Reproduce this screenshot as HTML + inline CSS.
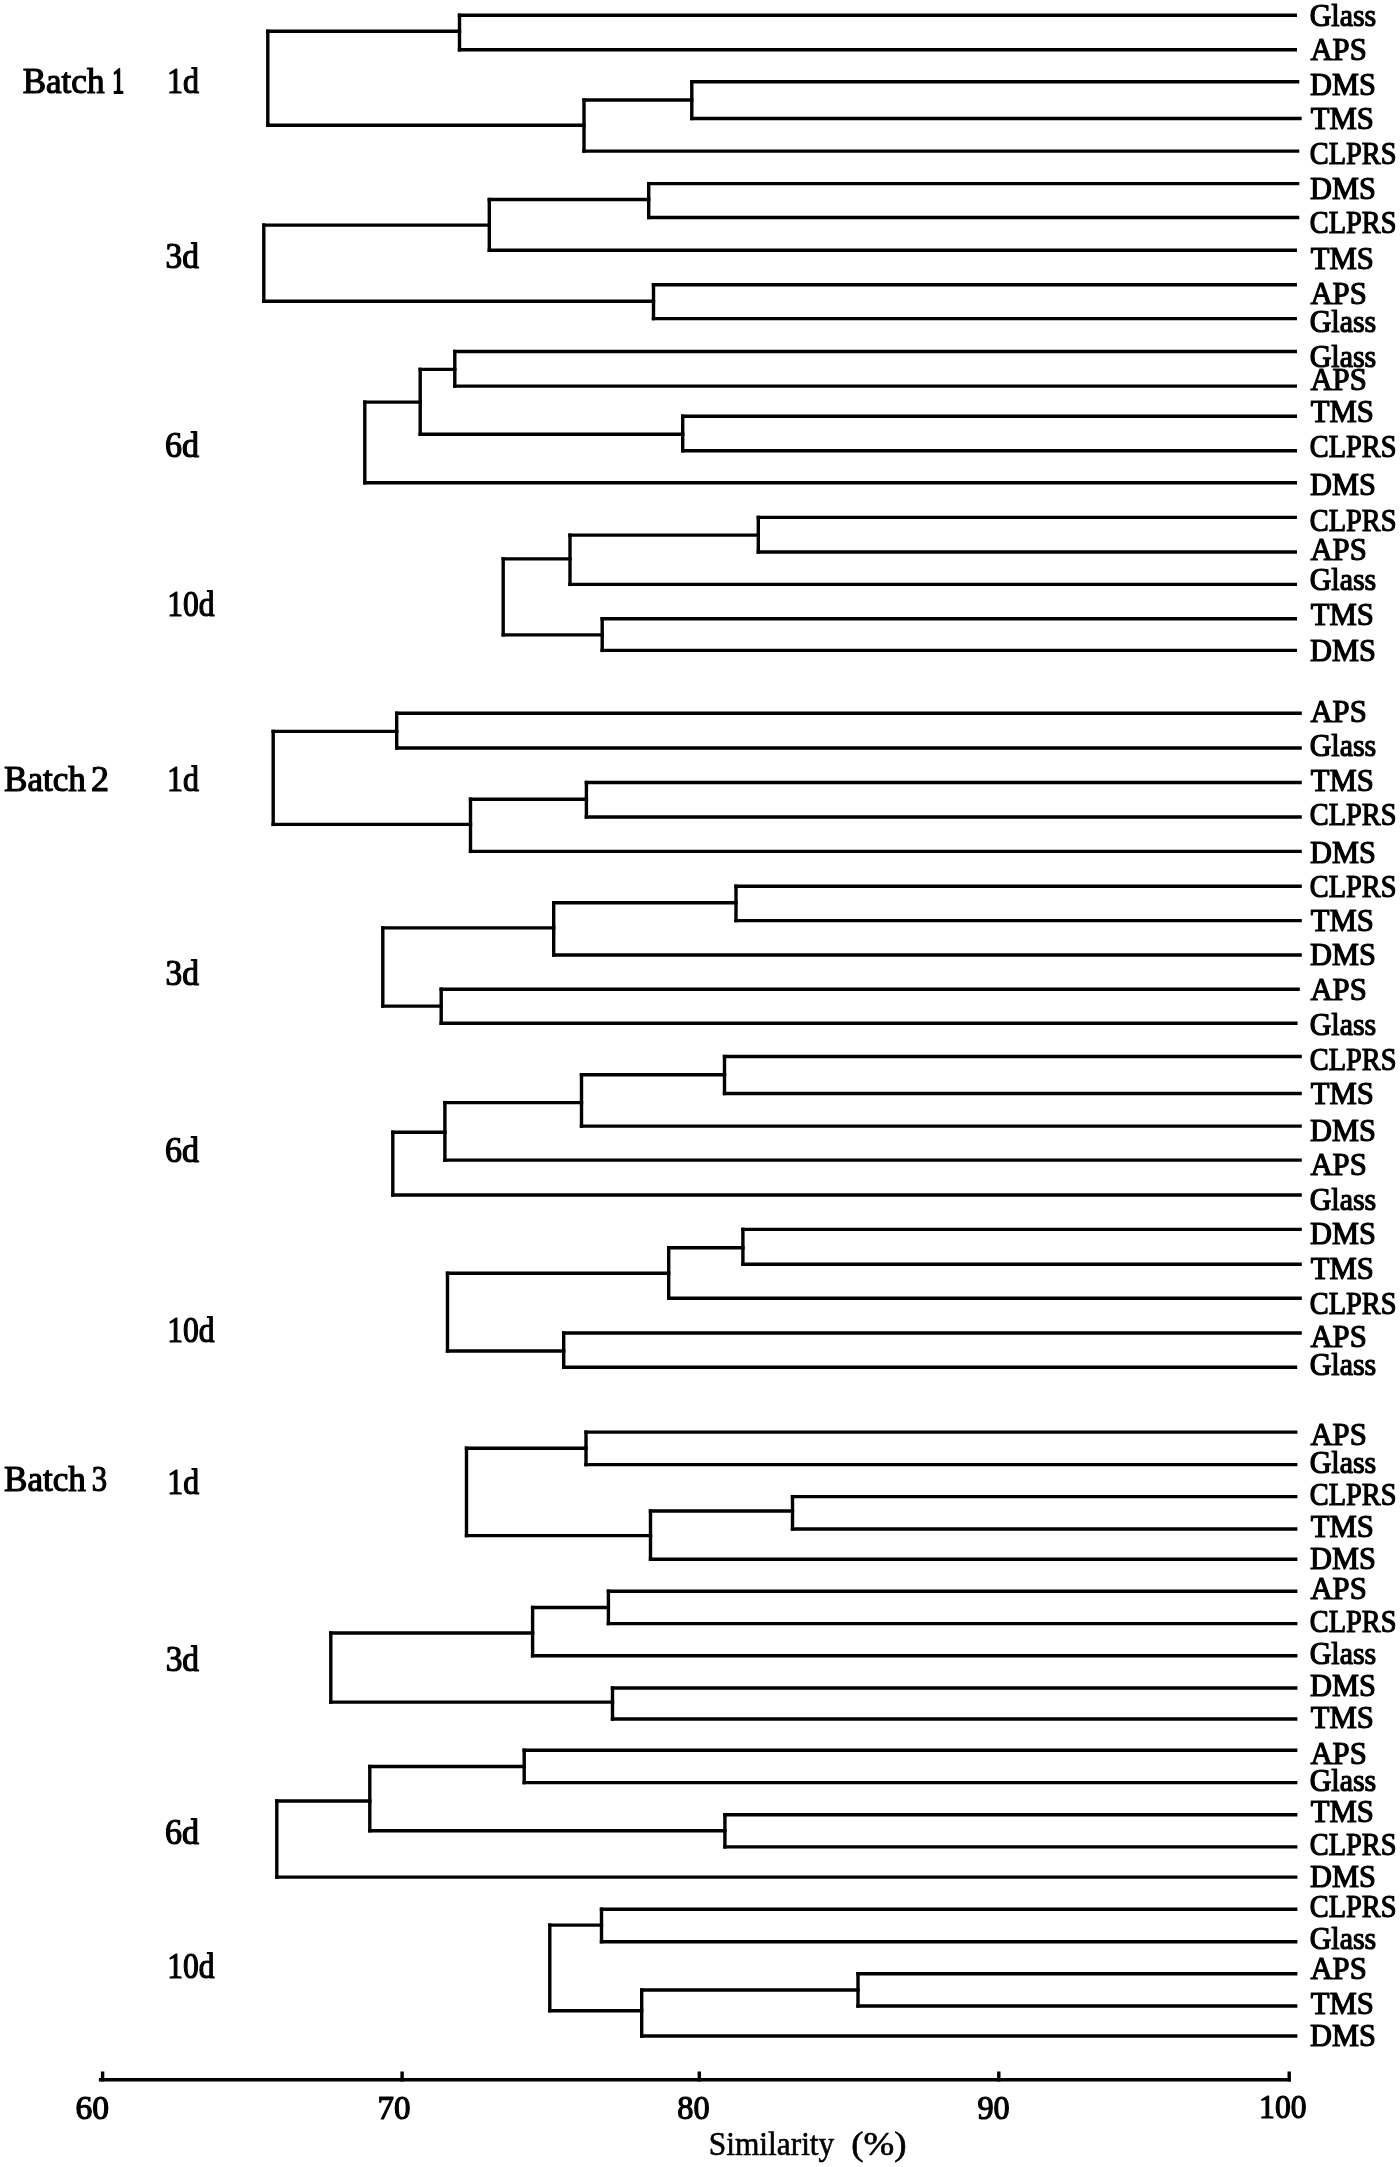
<!DOCTYPE html>
<html><head><meta charset="utf-8"><style>
html,body{margin:0;padding:0;background:#fff;width:1400px;height:2167px;overflow:hidden}
svg{display:block;will-change:transform}
text{font-family:"Liberation Serif",serif;fill:#000;stroke:#000;stroke-width:1.2px;stroke-linejoin:round}
</style></head><body>
<svg width="1400" height="2167" viewBox="0 0 1400 2167">
<g stroke="#000" stroke-width="3.4" stroke-linecap="square" fill="none">
<line x1="459.5" y1="15.2" x2="1295.3" y2="15.2"/>
<line x1="459.5" y1="49.8" x2="1295.3" y2="49.8"/>
<line x1="459.5" y1="15.2" x2="459.5" y2="49.8"/>
<line x1="691.8" y1="81.8" x2="1297.6" y2="81.8"/>
<line x1="691.8" y1="118.5" x2="1300.0" y2="118.5"/>
<line x1="691.8" y1="81.8" x2="691.8" y2="118.5"/>
<line x1="584.0" y1="100.0" x2="691.8" y2="100.0"/>
<line x1="584.0" y1="151.1" x2="1297.6" y2="151.1"/>
<line x1="584.0" y1="100.0" x2="584.0" y2="151.1"/>
<line x1="267.8" y1="31.3" x2="459.5" y2="31.3"/>
<line x1="267.8" y1="125.2" x2="584.0" y2="125.2"/>
<line x1="267.8" y1="31.3" x2="267.8" y2="125.2"/>
<line x1="648.7" y1="183.6" x2="1297.6" y2="183.6"/>
<line x1="648.7" y1="217.5" x2="1297.6" y2="217.5"/>
<line x1="648.7" y1="183.6" x2="648.7" y2="217.5"/>
<line x1="489.3" y1="199.5" x2="648.7" y2="199.5"/>
<line x1="489.3" y1="250.3" x2="1295.3" y2="250.3"/>
<line x1="489.3" y1="199.5" x2="489.3" y2="250.3"/>
<line x1="653.5" y1="284.7" x2="1295.3" y2="284.7"/>
<line x1="653.5" y1="318.6" x2="1295.3" y2="318.6"/>
<line x1="653.5" y1="284.7" x2="653.5" y2="318.6"/>
<line x1="263.8" y1="225.1" x2="489.3" y2="225.1"/>
<line x1="263.8" y1="301.2" x2="653.5" y2="301.2"/>
<line x1="263.8" y1="225.1" x2="263.8" y2="301.2"/>
<line x1="454.8" y1="351.5" x2="1295.3" y2="351.5"/>
<line x1="454.8" y1="386.1" x2="1295.3" y2="386.1"/>
<line x1="454.8" y1="351.5" x2="454.8" y2="386.1"/>
<line x1="682.7" y1="416.2" x2="1295.3" y2="416.2"/>
<line x1="682.7" y1="450.7" x2="1295.3" y2="450.7"/>
<line x1="682.7" y1="416.2" x2="682.7" y2="450.7"/>
<line x1="420.2" y1="369.4" x2="454.8" y2="369.4"/>
<line x1="420.2" y1="434.2" x2="682.7" y2="434.2"/>
<line x1="420.2" y1="369.4" x2="420.2" y2="434.2"/>
<line x1="364.8" y1="402.1" x2="420.2" y2="402.1"/>
<line x1="364.8" y1="482.8" x2="1295.3" y2="482.8"/>
<line x1="364.8" y1="402.1" x2="364.8" y2="482.8"/>
<line x1="758.3" y1="517.4" x2="1295.3" y2="517.4"/>
<line x1="758.3" y1="552.0" x2="1295.3" y2="552.0"/>
<line x1="758.3" y1="517.4" x2="758.3" y2="552.0"/>
<line x1="570.0" y1="535.1" x2="758.3" y2="535.1"/>
<line x1="570.0" y1="584.4" x2="1295.3" y2="584.4"/>
<line x1="570.0" y1="535.1" x2="570.0" y2="584.4"/>
<line x1="602.2" y1="618.7" x2="1295.3" y2="618.7"/>
<line x1="602.2" y1="650.4" x2="1295.3" y2="650.4"/>
<line x1="602.2" y1="618.7" x2="602.2" y2="650.4"/>
<line x1="503.2" y1="558.9" x2="570.0" y2="558.9"/>
<line x1="503.2" y1="634.9" x2="602.2" y2="634.9"/>
<line x1="503.2" y1="558.9" x2="503.2" y2="634.9"/>
<line x1="396.7" y1="713.3" x2="1300.1" y2="713.3"/>
<line x1="396.7" y1="748.0" x2="1300.1" y2="748.0"/>
<line x1="396.7" y1="713.3" x2="396.7" y2="748.0"/>
<line x1="586.4" y1="782.5" x2="1300.1" y2="782.5"/>
<line x1="586.4" y1="817.0" x2="1300.1" y2="817.0"/>
<line x1="586.4" y1="782.5" x2="586.4" y2="817.0"/>
<line x1="470.5" y1="799.2" x2="586.4" y2="799.2"/>
<line x1="470.5" y1="851.4" x2="1300.1" y2="851.4"/>
<line x1="470.5" y1="799.2" x2="470.5" y2="851.4"/>
<line x1="273.2" y1="731.4" x2="396.7" y2="731.4"/>
<line x1="273.2" y1="824.4" x2="470.5" y2="824.4"/>
<line x1="273.2" y1="731.4" x2="273.2" y2="824.4"/>
<line x1="736.0" y1="886.2" x2="1300.1" y2="886.2"/>
<line x1="736.0" y1="920.6" x2="1300.1" y2="920.6"/>
<line x1="736.0" y1="886.2" x2="736.0" y2="920.6"/>
<line x1="553.7" y1="902.8" x2="736.0" y2="902.8"/>
<line x1="553.7" y1="955.0" x2="1300.1" y2="955.0"/>
<line x1="553.7" y1="902.8" x2="553.7" y2="955.0"/>
<line x1="441.2" y1="989.2" x2="1298.1" y2="989.2"/>
<line x1="441.2" y1="1023.3" x2="1295.9" y2="1023.3"/>
<line x1="441.2" y1="989.2" x2="441.2" y2="1023.3"/>
<line x1="382.8" y1="927.9" x2="553.7" y2="927.9"/>
<line x1="382.8" y1="1006.1" x2="441.2" y2="1006.1"/>
<line x1="382.8" y1="927.9" x2="382.8" y2="1006.1"/>
<line x1="724.5" y1="1056.5" x2="1300.1" y2="1056.5"/>
<line x1="724.5" y1="1093.5" x2="1300.1" y2="1093.5"/>
<line x1="724.5" y1="1056.5" x2="724.5" y2="1093.5"/>
<line x1="581.5" y1="1074.7" x2="724.5" y2="1074.7"/>
<line x1="581.5" y1="1126.1" x2="1300.1" y2="1126.1"/>
<line x1="581.5" y1="1074.7" x2="581.5" y2="1126.1"/>
<line x1="444.9" y1="1102.6" x2="581.5" y2="1102.6"/>
<line x1="444.9" y1="1160.1" x2="1300.1" y2="1160.1"/>
<line x1="444.9" y1="1102.6" x2="444.9" y2="1160.1"/>
<line x1="392.8" y1="1132.2" x2="444.9" y2="1132.2"/>
<line x1="392.8" y1="1195.0" x2="1300.1" y2="1195.0"/>
<line x1="392.8" y1="1132.2" x2="392.8" y2="1195.0"/>
<line x1="742.9" y1="1229.4" x2="1300.1" y2="1229.4"/>
<line x1="742.9" y1="1264.3" x2="1300.1" y2="1264.3"/>
<line x1="742.9" y1="1229.4" x2="742.9" y2="1264.3"/>
<line x1="668.7" y1="1247.7" x2="742.9" y2="1247.7"/>
<line x1="668.7" y1="1298.3" x2="1300.1" y2="1298.3"/>
<line x1="668.7" y1="1247.7" x2="668.7" y2="1298.3"/>
<line x1="563.7" y1="1333.0" x2="1300.1" y2="1333.0"/>
<line x1="563.7" y1="1367.3" x2="1295.5" y2="1367.3"/>
<line x1="563.7" y1="1333.0" x2="563.7" y2="1367.3"/>
<line x1="447.5" y1="1273.3" x2="668.7" y2="1273.3"/>
<line x1="447.5" y1="1351.0" x2="563.7" y2="1351.0"/>
<line x1="447.5" y1="1273.3" x2="447.5" y2="1351.0"/>
<line x1="586.0" y1="1432.1" x2="1295.7" y2="1432.1"/>
<line x1="586.0" y1="1464.6" x2="1295.7" y2="1464.6"/>
<line x1="586.0" y1="1432.1" x2="586.0" y2="1464.6"/>
<line x1="792.5" y1="1496.6" x2="1295.7" y2="1496.6"/>
<line x1="792.5" y1="1529.0" x2="1295.7" y2="1529.0"/>
<line x1="792.5" y1="1496.6" x2="792.5" y2="1529.0"/>
<line x1="650.5" y1="1511.0" x2="792.5" y2="1511.0"/>
<line x1="650.5" y1="1559.2" x2="1295.7" y2="1559.2"/>
<line x1="650.5" y1="1511.0" x2="650.5" y2="1559.2"/>
<line x1="466.5" y1="1448.2" x2="586.0" y2="1448.2"/>
<line x1="466.5" y1="1535.6" x2="650.5" y2="1535.6"/>
<line x1="466.5" y1="1448.2" x2="466.5" y2="1535.6"/>
<line x1="608.4" y1="1591.2" x2="1295.7" y2="1591.2"/>
<line x1="608.4" y1="1623.6" x2="1295.7" y2="1623.6"/>
<line x1="608.4" y1="1591.2" x2="608.4" y2="1623.6"/>
<line x1="532.6" y1="1607.5" x2="608.4" y2="1607.5"/>
<line x1="532.6" y1="1655.7" x2="1295.7" y2="1655.7"/>
<line x1="532.6" y1="1607.5" x2="532.6" y2="1655.7"/>
<line x1="612.5" y1="1688.0" x2="1295.7" y2="1688.0"/>
<line x1="612.5" y1="1719.0" x2="1295.7" y2="1719.0"/>
<line x1="612.5" y1="1688.0" x2="612.5" y2="1719.0"/>
<line x1="330.8" y1="1633.0" x2="532.6" y2="1633.0"/>
<line x1="330.8" y1="1702.1" x2="612.5" y2="1702.1"/>
<line x1="330.8" y1="1633.0" x2="330.8" y2="1702.1"/>
<line x1="524.2" y1="1750.2" x2="1295.7" y2="1750.2"/>
<line x1="524.2" y1="1782.6" x2="1295.7" y2="1782.6"/>
<line x1="524.2" y1="1750.2" x2="524.2" y2="1782.6"/>
<line x1="724.9" y1="1814.7" x2="1295.7" y2="1814.7"/>
<line x1="724.9" y1="1846.9" x2="1295.7" y2="1846.9"/>
<line x1="724.9" y1="1814.7" x2="724.9" y2="1846.9"/>
<line x1="369.8" y1="1766.5" x2="524.2" y2="1766.5"/>
<line x1="369.8" y1="1830.7" x2="724.9" y2="1830.7"/>
<line x1="369.8" y1="1766.5" x2="369.8" y2="1830.7"/>
<line x1="276.8" y1="1801.0" x2="369.8" y2="1801.0"/>
<line x1="276.8" y1="1877.1" x2="1295.7" y2="1877.1"/>
<line x1="276.8" y1="1801.0" x2="276.8" y2="1877.1"/>
<line x1="601.5" y1="1909.2" x2="1295.7" y2="1909.2"/>
<line x1="601.5" y1="1941.7" x2="1295.7" y2="1941.7"/>
<line x1="601.5" y1="1909.2" x2="601.5" y2="1941.7"/>
<line x1="858.0" y1="1973.7" x2="1295.7" y2="1973.7"/>
<line x1="858.0" y1="2006.0" x2="1295.7" y2="2006.0"/>
<line x1="858.0" y1="1973.7" x2="858.0" y2="2006.0"/>
<line x1="641.7" y1="1990.0" x2="858.0" y2="1990.0"/>
<line x1="641.7" y1="2036.0" x2="1295.7" y2="2036.0"/>
<line x1="641.7" y1="1990.0" x2="641.7" y2="2036.0"/>
<line x1="549.8" y1="1925.1" x2="601.5" y2="1925.1"/>
<line x1="549.8" y1="2010.7" x2="641.7" y2="2010.7"/>
<line x1="549.8" y1="1925.1" x2="549.8" y2="2010.7"/>
<line x1="100.6" y1="2079.8" x2="1289.2" y2="2079.8"/>
<line x1="102.6" y1="2079.8" x2="102.6" y2="2073.2"/>
<line x1="402.1" y1="2079.8" x2="402.1" y2="2073.2"/>
<line x1="699.3" y1="2079.8" x2="699.3" y2="2073.2"/>
<line x1="998.8" y1="2079.8" x2="998.8" y2="2073.2"/>
<line x1="1289.2" y1="2079.8" x2="1289.2" y2="2073.2"/>
</g>
<g>
<text transform="translate(1309.75 25.7) scale(0.9507 1)" style="font-size:31.5px;stroke-width:1.2px">Glass</text>
<text transform="translate(1310.40 60.1) scale(0.9750 1)" style="font-size:31.5px;stroke-width:1.2px">APS</text>
<text transform="translate(1310.00 95.0) scale(0.9642 1)" style="font-size:31.5px;stroke-width:1.2px">DMS</text>
<text transform="translate(1310.70 129.2) scale(0.9746 1)" style="font-size:31.5px;stroke-width:1.2px">TMS</text>
<text transform="translate(1309.80 163.6) scale(0.9011 1)" style="font-size:31.5px;stroke-width:1.2px">CLPRS</text>
<text transform="translate(1310.00 198.5) scale(0.9642 1)" style="font-size:31.5px;stroke-width:1.2px">DMS</text>
<text transform="translate(1309.80 232.6) scale(0.9011 1)" style="font-size:31.5px;stroke-width:1.2px">CLPRS</text>
<text transform="translate(1310.70 269.1) scale(0.9746 1)" style="font-size:31.5px;stroke-width:1.2px">TMS</text>
<text transform="translate(1310.40 304.0) scale(0.9750 1)" style="font-size:31.5px;stroke-width:1.2px">APS</text>
<text transform="translate(1309.75 332.2) scale(0.9507 1)" style="font-size:31.5px;stroke-width:1.2px">Glass</text>
<text transform="translate(1309.75 366.5) scale(0.9507 1)" style="font-size:31.5px;stroke-width:1.2px">Glass</text>
<text transform="translate(1310.40 389.5) scale(0.9750 1)" style="font-size:31.5px;stroke-width:1.2px">APS</text>
<text transform="translate(1310.70 422.2) scale(0.9746 1)" style="font-size:31.5px;stroke-width:1.2px">TMS</text>
<text transform="translate(1309.80 456.7) scale(0.9011 1)" style="font-size:31.5px;stroke-width:1.2px">CLPRS</text>
<text transform="translate(1310.00 495.3) scale(0.9642 1)" style="font-size:31.5px;stroke-width:1.2px">DMS</text>
<text transform="translate(1309.80 531.0) scale(0.9011 1)" style="font-size:31.5px;stroke-width:1.2px">CLPRS</text>
<text transform="translate(1310.40 560.0) scale(0.9750 1)" style="font-size:31.5px;stroke-width:1.2px">APS</text>
<text transform="translate(1309.75 590.0) scale(0.9507 1)" style="font-size:31.5px;stroke-width:1.2px">Glass</text>
<text transform="translate(1310.70 624.9) scale(0.9746 1)" style="font-size:31.5px;stroke-width:1.2px">TMS</text>
<text transform="translate(1310.00 661.4) scale(0.9642 1)" style="font-size:31.5px;stroke-width:1.2px">DMS</text>
<text transform="translate(1310.40 721.6) scale(0.9750 1)" style="font-size:31.5px;stroke-width:1.2px">APS</text>
<text transform="translate(1309.75 755.6) scale(0.9507 1)" style="font-size:31.5px;stroke-width:1.2px">Glass</text>
<text transform="translate(1310.70 790.5) scale(0.9746 1)" style="font-size:31.5px;stroke-width:1.2px">TMS</text>
<text transform="translate(1309.80 825.4) scale(0.9011 1)" style="font-size:31.5px;stroke-width:1.2px">CLPRS</text>
<text transform="translate(1310.00 862.8) scale(0.9642 1)" style="font-size:31.5px;stroke-width:1.2px">DMS</text>
<text transform="translate(1309.80 896.8) scale(0.9011 1)" style="font-size:31.5px;stroke-width:1.2px">CLPRS</text>
<text transform="translate(1310.70 930.9) scale(0.9746 1)" style="font-size:31.5px;stroke-width:1.2px">TMS</text>
<text transform="translate(1310.00 965.4) scale(0.9642 1)" style="font-size:31.5px;stroke-width:1.2px">DMS</text>
<text transform="translate(1310.40 999.8) scale(0.9750 1)" style="font-size:31.5px;stroke-width:1.2px">APS</text>
<text transform="translate(1309.75 1034.7) scale(0.9507 1)" style="font-size:31.5px;stroke-width:1.2px">Glass</text>
<text transform="translate(1309.80 1069.9) scale(0.9011 1)" style="font-size:31.5px;stroke-width:1.2px">CLPRS</text>
<text transform="translate(1310.70 1104.0) scale(0.9746 1)" style="font-size:31.5px;stroke-width:1.2px">TMS</text>
<text transform="translate(1310.00 1140.5) scale(0.9642 1)" style="font-size:31.5px;stroke-width:1.2px">DMS</text>
<text transform="translate(1310.40 1174.6) scale(0.9750 1)" style="font-size:31.5px;stroke-width:1.2px">APS</text>
<text transform="translate(1309.75 1209.8) scale(0.9507 1)" style="font-size:31.5px;stroke-width:1.2px">Glass</text>
<text transform="translate(1310.00 1244.3) scale(0.9642 1)" style="font-size:31.5px;stroke-width:1.2px">DMS</text>
<text transform="translate(1310.70 1279.2) scale(0.9746 1)" style="font-size:31.5px;stroke-width:1.2px">TMS</text>
<text transform="translate(1309.80 1314.1) scale(0.9011 1)" style="font-size:31.5px;stroke-width:1.2px">CLPRS</text>
<text transform="translate(1310.40 1346.5) scale(0.9750 1)" style="font-size:31.5px;stroke-width:1.2px">APS</text>
<text transform="translate(1309.75 1374.7) scale(0.9507 1)" style="font-size:31.5px;stroke-width:1.2px">Glass</text>
<text transform="translate(1310.40 1444.9) scale(0.9750 1)" style="font-size:31.5px;stroke-width:1.2px">APS</text>
<text transform="translate(1309.75 1472.6) scale(0.9507 1)" style="font-size:31.5px;stroke-width:1.2px">Glass</text>
<text transform="translate(1309.80 1504.7) scale(0.9011 1)" style="font-size:31.5px;stroke-width:1.2px">CLPRS</text>
<text transform="translate(1310.70 1537.0) scale(0.9746 1)" style="font-size:31.5px;stroke-width:1.2px">TMS</text>
<text transform="translate(1310.00 1569.4) scale(0.9642 1)" style="font-size:31.5px;stroke-width:1.2px">DMS</text>
<text transform="translate(1310.40 1599.0) scale(0.9750 1)" style="font-size:31.5px;stroke-width:1.2px">APS</text>
<text transform="translate(1309.80 1631.7) scale(0.9011 1)" style="font-size:31.5px;stroke-width:1.2px">CLPRS</text>
<text transform="translate(1309.75 1663.8) scale(0.9507 1)" style="font-size:31.5px;stroke-width:1.2px">Glass</text>
<text transform="translate(1310.00 1695.7) scale(0.9642 1)" style="font-size:31.5px;stroke-width:1.2px">DMS</text>
<text transform="translate(1310.70 1728.1) scale(0.9746 1)" style="font-size:31.5px;stroke-width:1.2px">TMS</text>
<text transform="translate(1310.40 1763.6) scale(0.9750 1)" style="font-size:31.5px;stroke-width:1.2px">APS</text>
<text transform="translate(1309.75 1790.6) scale(0.9507 1)" style="font-size:31.5px;stroke-width:1.2px">Glass</text>
<text transform="translate(1310.70 1822.2) scale(0.9746 1)" style="font-size:31.5px;stroke-width:1.2px">TMS</text>
<text transform="translate(1309.80 1854.6) scale(0.9011 1)" style="font-size:31.5px;stroke-width:1.2px">CLPRS</text>
<text transform="translate(1310.00 1887.0) scale(0.9642 1)" style="font-size:31.5px;stroke-width:1.2px">DMS</text>
<text transform="translate(1309.80 1916.9) scale(0.9011 1)" style="font-size:31.5px;stroke-width:1.2px">CLPRS</text>
<text transform="translate(1309.75 1948.5) scale(0.9507 1)" style="font-size:31.5px;stroke-width:1.2px">Glass</text>
<text transform="translate(1310.40 1979.2) scale(0.9750 1)" style="font-size:31.5px;stroke-width:1.2px">APS</text>
<text transform="translate(1310.70 2014.1) scale(0.9746 1)" style="font-size:31.5px;stroke-width:1.2px">TMS</text>
<text transform="translate(1310.00 2046.0) scale(0.9642 1)" style="font-size:31.5px;stroke-width:1.2px">DMS</text>
<text transform="translate(22.70 93.0) scale(1.0074 1)" style="font-size:34.8px;stroke-width:1.2px">Batch</text>
<text transform="translate(112.33 93.0) scale(0.6857 1)" style="font-size:34.8px;stroke-width:2.0px">1</text>
<text transform="translate(4.10 790.9) scale(1.0074 1)" style="font-size:34.8px;stroke-width:1.2px">Batch</text>
<text transform="translate(91.07 790.9) scale(1.0333 1)" style="font-size:34.8px;stroke-width:1.2px">2</text>
<text transform="translate(4.10 1491.3) scale(1.0074 1)" style="font-size:34.8px;stroke-width:1.2px">Batch</text>
<text transform="translate(91.72 1491.3) scale(0.8813 1)" style="font-size:34.8px;stroke-width:1.2px">3</text>
<text transform="translate(167.07 92.9) scale(0.9152 1)" style="font-size:35px;stroke-width:1.2px">1d</text>
<text transform="translate(165.54 268.0) scale(0.9559 1)" style="font-size:35px;stroke-width:1.2px">3d</text>
<text transform="translate(165.03 456.7) scale(0.9735 1)" style="font-size:35px;stroke-width:1.2px">6d</text>
<text transform="translate(167.30 615.9) scale(0.9020 1)" style="font-size:35px;stroke-width:1.2px">10d</text>
<text transform="translate(167.08 791.0) scale(0.9121 1)" style="font-size:35px;stroke-width:1.2px">1d</text>
<text transform="translate(165.54 984.5) scale(0.9559 1)" style="font-size:35px;stroke-width:1.2px">3d</text>
<text transform="translate(165.03 1162.0) scale(0.9735 1)" style="font-size:35px;stroke-width:1.2px">6d</text>
<text transform="translate(167.30 1341.7) scale(0.9020 1)" style="font-size:35px;stroke-width:1.2px">10d</text>
<text transform="translate(167.28 1493.7) scale(0.9091 1)" style="font-size:35px;stroke-width:1.2px">1d</text>
<text transform="translate(165.64 1671.4) scale(0.9559 1)" style="font-size:35px;stroke-width:1.2px">3d</text>
<text transform="translate(165.03 1843.9) scale(0.9735 1)" style="font-size:35px;stroke-width:1.2px">6d</text>
<text transform="translate(167.30 1977.6) scale(0.9020 1)" style="font-size:35px;stroke-width:1.2px">10d</text>
<text transform="translate(75.48 2118.5) scale(1.0161 1)" style="font-size:33px;stroke-width:1.2px">60</text>
<text transform="translate(377.50 2118.5) scale(1.0000 1)" style="font-size:33px;stroke-width:1.2px">70</text>
<text transform="translate(677.22 2118.5) scale(0.9806 1)" style="font-size:33px;stroke-width:1.2px">80</text>
<text transform="translate(977.50 2118.5) scale(0.9766 1)" style="font-size:33px;stroke-width:1.2px">90</text>
<text transform="translate(1259.09 2118.3) scale(0.9574 1)" style="font-size:33px;stroke-width:1.2px">100</text>
<text transform="translate(708.80 2154.6) scale(0.9508 1)" style="font-size:33px;stroke-width:0.6px">Similarity</text>
<text transform="translate(851.28 2154.6) scale(1.1191 1)" style="font-size:33px;stroke-width:0.6px">(%)</text>
</g>
</svg>
</body></html>
